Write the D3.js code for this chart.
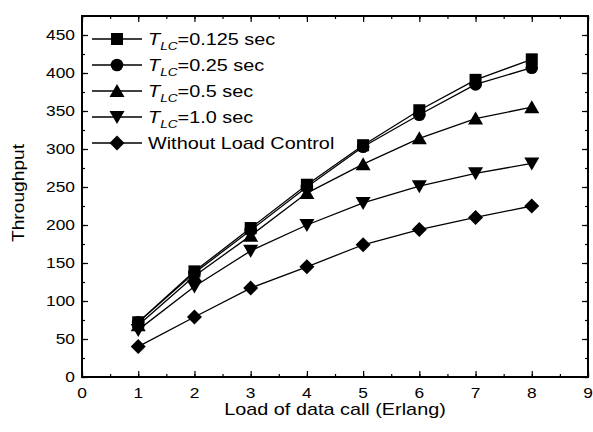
<!DOCTYPE html>
<html><head><meta charset="utf-8">
<script src="https://cdn.jsdelivr.net/npm/d3@7"></script>
<style>body{margin:0;background:#fff}svg{font-family:"Liberation Sans",Arial,sans-serif}</style>
</head><body><svg id="c" width="593" height="432"></svg>
<script>
const loads = [1,2,3,4,5,6,7,8];
const tlc0125 = [72,139,196,253,305,351,391,418];
const tlc025  = [72,137,193,250,303,345,385,407];
const tlc05   = [68,133,186,242,280,314,340,355];
const tlc10   = [62,119,166,200,229,251,268,281];
const noLC    = [40,79,117,145,174,194,210,225];
const seriesNames = [["0.125 sec","square"],["0.25 sec","circle"],["0.5 sec","up"],["1.0 sec","down"],["Without Load Control","diamond"]];
const seriesData = [tlc0125,tlc025,tlc05,tlc10,noLC];
const xTicks = [0,1,2,3,4,5,6,7,8,9];
const yTicks = [0,50,100,150,200,250,300,350,400,450];

const svg = d3.select("#c");
const L=82,R=588,T=16,B=377;
const SX=1.24;
const x = d3.scaleLinear().domain([0,9]).range([L,R]);
const y = d3.scaleLinear().domain([0,475]).range([B,T]);

function marker(g, type, cx, cy){
  if(type==="square") g.append("rect").attr("x",cx-6).attr("y",cy-6).attr("width",12).attr("height",12);
  else if(type==="circle") g.append("circle").attr("cx",cx).attr("cy",cy).attr("r",6.3);
  else if(type==="up") g.append("path").attr("d",`M${cx},${cy-7}L${cx+7.5},${cy+6}L${cx-7.5},${cy+6}Z`);
  else if(type==="down") g.append("path").attr("d",`M${cx},${cy+7}L${cx+7.5},${cy-6}L${cx-7.5},${cy-6}Z`);
  else g.append("path").attr("d",`M${cx},${cy-7.5}L${cx+7.5},${cy}L${cx},${cy+7.5}L${cx-7.5},${cy}Z`);
}

// axes with inward ticks
const minorX = d3.range(0,9.01,0.5), minorY = d3.range(0,476,25);
const ax = svg.append("g");
ax.append("g").attr("transform",`translate(0,${B})`).call(d3.axisBottom(x).tickValues(minorX).tickSize(-3).tickFormat(""));
ax.append("g").attr("transform",`translate(0,${B})`).call(d3.axisBottom(x).tickValues(xTicks).tickSize(-6).tickFormat(""));
ax.append("g").attr("transform",`translate(0,${T})`).call(d3.axisTop(x).tickValues(minorX).tickSize(-3).tickFormat(""));
ax.append("g").attr("transform",`translate(0,${T})`).call(d3.axisTop(x).tickValues(xTicks).tickSize(-6).tickFormat(""));
ax.append("g").attr("transform",`translate(${L},0)`).call(d3.axisLeft(y).tickValues(minorY).tickSize(-3).tickFormat(""));
ax.append("g").attr("transform",`translate(${L},0)`).call(d3.axisLeft(y).tickValues(yTicks).tickSize(-6).tickFormat(""));
ax.append("g").attr("transform",`translate(${R},0)`).call(d3.axisRight(y).tickValues(minorY).tickSize(-3).tickFormat(""));
ax.append("g").attr("transform",`translate(${R},0)`).call(d3.axisRight(y).tickValues(yTicks).tickSize(-6).tickFormat(""));
svg.selectAll(".domain").remove();
svg.selectAll(".tick line").attr("stroke","#000").attr("stroke-width",1.2);
svg.append("rect").attr("x",L).attr("y",T).attr("width",R-L).attr("height",B-T).attr("fill","none").attr("stroke","#000").attr("stroke-width",2);

// tick labels (horizontally stretched like the scanned original)
svg.append("g").selectAll("text").data(xTicks).join("text")
  .attr("transform",d=>`translate(${x(d)},398) scale(${SX},1)`)
  .attr("text-anchor","middle").attr("font-size",14).text(d=>d);
svg.append("g").selectAll("text").data(yTicks).join("text")
  .attr("transform",d=>`translate(75,${y(d)+5}) scale(${SX},1)`)
  .attr("text-anchor","end").attr("font-size",14).text(d=>d);
svg.append("text").attr("transform",`translate(335,415) scale(${SX},1)`).attr("text-anchor","middle").attr("font-size",16).text("Load of data call (Erlang)");
svg.append("text").attr("transform","translate(24,193) rotate(-90) scale(1.2,1)").attr("text-anchor","middle").attr("font-size",16).text("Throughput");

// series
const line = d3.line().x((d,i)=>x(loads[i])).y(d=>y(d));
seriesData.forEach((s,k)=>{
  svg.append("path").attr("d",line(s)).attr("fill","none").attr("stroke","#000").attr("stroke-width",1.3);
  const g = svg.append("g").attr("fill","#000");
  s.forEach((v,i)=>marker(g, seriesNames[k][1], x(loads[i]), y(v)));
});

// legend
seriesNames.forEach((sn,k)=>{
  const cy = 39 + k*26;
  svg.append("line").attr("x1",92).attr("x2",142).attr("y1",cy).attr("y2",cy).attr("stroke","#000").attr("stroke-width",1.3);
  marker(svg.append("g").attr("fill","#000"), sn[1], 117, cy);
  const t = svg.append("text").attr("transform",`translate(148,${cy+6}) scale(${SX},1)`).attr("font-size",16);
  if(k<4){
    t.append("tspan").attr("font-style","italic").text("T");
    t.append("tspan").attr("font-style","italic").attr("font-size",11).attr("dy",5).text("LC");
    t.append("tspan").attr("dy",-5).text("=" + sn[0]);
  } else t.text(sn[0]);
});
</script></body></html>
